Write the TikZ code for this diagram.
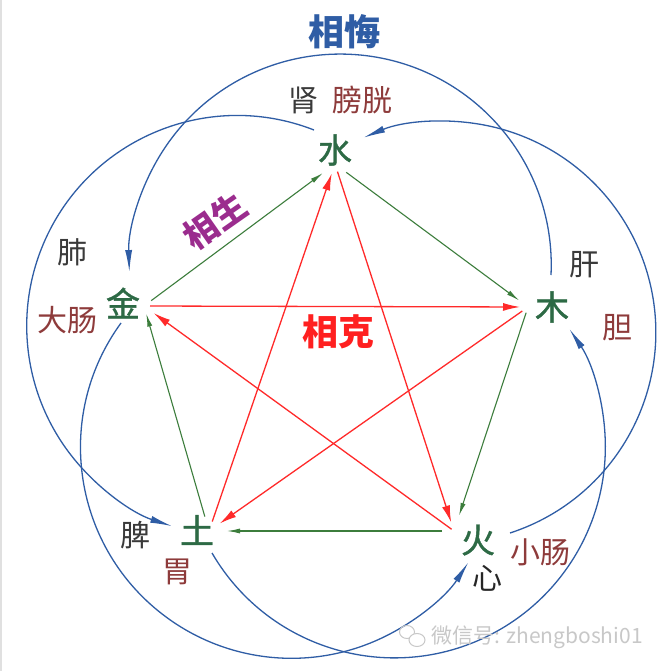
\documentclass[tikz,border=0pt]{standalone}
\usepackage{fontspec}
\newfontfamily\cjk{Noto Sans CJK SC}
\newfontfamily\cjkm[FakeBold=1.2]{Noto Sans CJK SC}
\usetikzlibrary{arrows.meta}
\definecolor{hblue}{HTML}{2F5DA5}
\definecolor{lgreen}{HTML}{3C7D3C}
\definecolor{egreen}{HTML}{2D6A45}
\definecolor{lred}{HTML}{FF2A2A}
\definecolor{kred}{HTML}{FF2020}
\definecolor{spurple}{HTML}{9B2C8E}
\definecolor{ored}{HTML}{8E3B3B}
\definecolor{ogray}{HTML}{3A3A3A}
\definecolor{wgray}{HTML}{C8C8C8}
\tikzset{
  elem/.style={inner sep=0pt, text=egreen, font=\cjkm\fontsize{34}{34}\selectfont},
  organ/.style={inner sep=0pt, text=ogray, font=\cjk\fontsize{30}{30}\selectfont},
  organr/.style={inner sep=0pt, text=ored, font=\cjk\fontsize{30}{30}\selectfont},
  title/.style={inner sep=0pt, font=\cjk\bfseries\fontsize{36}{36}\selectfont},
  gen/.style={draw=lgreen, line width=1.1pt, -{Latex[length=13pt,width=5pt]}},
  ke/.style={draw=lred, line width=1.3pt, -{Latex[length=17pt,width=8pt]}},
  hui/.style={draw=hblue, line width=1.3pt, -{Latex[length=22pt,width=7pt]}},
}
\begin{document}
\begin{tikzpicture}[x=1pt,y=1pt,yscale=-1]
\useasboundingbox (0,0) rectangle (672,671);
\fill[white] (0,0) rectangle (672,671);
\draw[line width=1.5pt, draw=black!12] (1,0) -- (1,671);

% titles
\node[title, text=hblue] (hui) at (344,32) {相悔};
\node[title, text=kred] (ke) at (338,332) {相克};
\node[title, text=spurple, rotate=35, font=\cjk\bfseries\fontsize{34}{34}\selectfont] (sheng) at (215,221) {相生};

% elements
\node[elem] (shui) at (335,150) {水};
\node[elem] (mu) at (552,307) {木};
\node[elem] (huo) at (478,540) {火};
\node[elem] (tu) at (197,530) {土};
\node[elem] (jin) at (123,303) {金};

% organs
\node[organ] (shen) at (303,100) {肾};
\node[organr] (pangguang) at (362,100) {膀胱};
\node[organ] (fei) at (72,252) {肺};
\node[organr] (dachang) at (67,320) {大肠};
\node[organ] (gan) at (584,265) {肝};
\node[organr] (dan) at (617,328) {胆};
\node[organ] (pi) at (135,535) {脾};
\node[organr] (wei) at (177,572) {胃};
\node[organ, text=black!85] (xin) at (487,578) {心};
\node[organr] (xiaochang) at (540,552) {小肠};

% hubs
\coordinate (shuiH) at (335,164);
\coordinate (muH) at (528,307);
\coordinate (huoH) at (454,531);
\coordinate (tuH) at (209,531);
\coordinate (jinH) at (144,306);

% sheng (green)
\draw[gen, shorten <=9pt, shorten >=15pt] (jinH) -- (shuiH);
\draw[gen, shorten <=14pt, shorten >=11pt] (shuiH) -- (muH);
\draw[gen, shorten <=6pt, shorten >=16pt] (muH) -- (huoH);
\draw[gen, shorten <=12pt, shorten >=18pt] (huoH) -- (tuH);
\draw[gen, shorten <=15pt, shorten >=8pt] (tuH) -- (jinH);

% ke (red)
\draw[ke, shorten <=6pt, shorten >=8pt] (jinH) -- (muH);
\draw[ke, shorten <=7pt, shorten >=13pt] (muH) -- (tuH);
\draw[ke, shorten <=10pt, shorten >=10pt] (tuH) -- (shuiH);
\draw[ke, shorten <=8pt, shorten >=9pt] (shuiH) -- (huoH);
\draw[ke, shorten <=3pt, shorten >=12pt] (huoH) -- (jinH);

% hui (blue arcs)
\coordinate (muA) at (551,275);
\coordinate (huoA) at (510,533);
\coordinate (tuA) at (212,553);
\coordinate (jinA) at (121,323);
\coordinate (shuiA) at (314,130);
\draw[hui] (muA) arc[start angle=2.7, end angle=-181.9, radius=211pt];
\draw[hui] (huoA) arc[start angle=72.0, end angle=-112.7, radius=211pt];
\draw[hui] (tuA) arc[start angle=149.8, end angle=-34.0, radius=211pt];
\draw[hui] (jinA) arc[start angle=216.1, end angle=33.0, radius=211pt];
\draw[hui] (shuiA) arc[start angle=-68.6, end angle=-252.0, radius=210.5pt];

% watermark
\draw[wgray, line width=1pt] (407,632) ellipse[x radius=7.5pt, y radius=6.5pt];
\draw[wgray, line width=1pt, fill=white] (417,640) ellipse[x radius=8pt, y radius=6.5pt];
\node[inner sep=0pt, text=wgray, font=\cjk\fontsize{21}{21}\selectfont] (wm) at (537,637) {微信号: zhengboshi01};
\end{tikzpicture}
\end{document}
